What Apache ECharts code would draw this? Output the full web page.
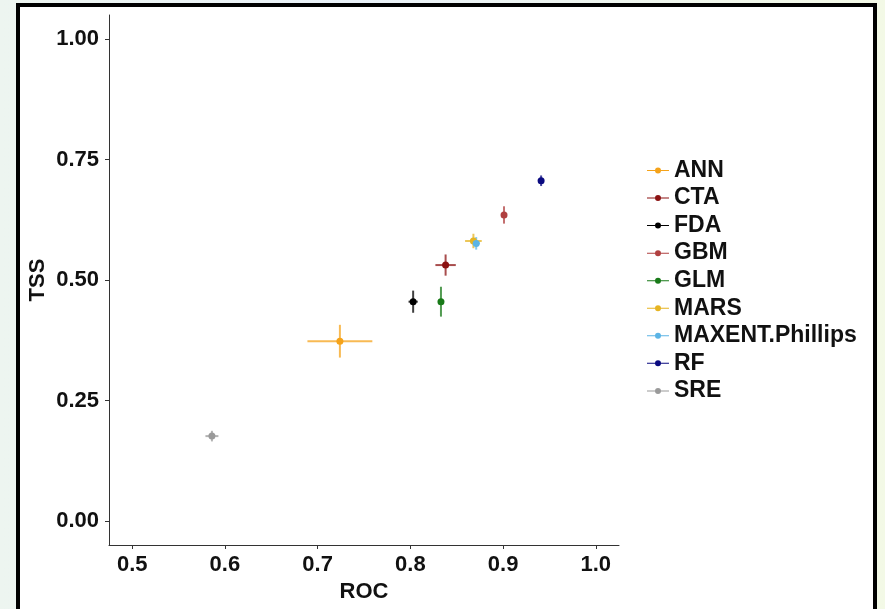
<!DOCTYPE html>
<html>
<head>
<meta charset="utf-8">
<script src="https://cdn.jsdelivr.net/npm/echarts@6/dist/echarts.min.js"></script>
<style>
    html, body {
        margin: 0;
        padding: 0;
        width: 885px;
        height: 609px;
        overflow: hidden;
        background: linear-gradient(90deg, #edf5f0 0%, #e9f1f8 40%, #eef5ee 70%, #f3f9e6 100%);
    }
    #frame {
        position: absolute;
        left: 16px;
        top: 3px;
        width: 861px;
        height: 612px;
        border: 4px solid #000;
        box-sizing: border-box;
        background: #fff;
    }
    #chart {
        position: absolute;
        left: 0;
        top: 0;
        width: 885px;
        height: 609px;
    }
</style>
</head>
<body>
<div id="frame"></div>
<div id="chart"></div>
<script>
// model names and evaluation scores (mean +/- sd)
const models = ['ANN', 'CTA', 'FDA', 'GBM', 'GLM', 'MARS', 'MAXENT.Phillips', 'RF', 'SRE'];
const rocMean = [0.724, 0.838, 0.803, 0.901, 0.833, 0.868, 0.871, 0.941, 0.586];
const rocSd = [0.035, 0.011, 0.005, 0.002, 0.001, 0.009, 0.004, 0.003, 0.007];
const tssMean = [0.373, 0.531, 0.455, 0.635, 0.455, 0.581, 0.576, 0.706, 0.176];
const tssSd = [0.034, 0.022, 0.023, 0.018, 0.031, 0.015, 0.013, 0.011, 0.011];
const colors = ['#F5A31A', '#8B1212', '#000000', '#B04040', '#187A18', '#E6B422', '#5BB4E5', '#0A0A80', '#9A9A9A'];

const xTicks = [0.5, 0.6, 0.7, 0.8, 0.9, 1.0];
const yTicks = [0, 0.25, 0.5, 0.75, 1.0];

const FONT = 'Liberation Sans, Arial, sans-serif';
const legendIcon = 'path://M0,3.5L22,3.5L22,4.5L0,4.5Z M8,4A3,3,0,1,1,14,4A3,3,0,1,1,8,4Z';

const myChart = echarts.init(document.getElementById('chart'));

function errorBars(i) {
    return function (params, api) {
        const x = api.value(0), y = api.value(1);
        const sx = api.value(2), sy = api.value(3);
        const h1 = api.coord([x - sx, y]);
        const h2 = api.coord([x + sx, y]);
        const v1 = api.coord([x, y - sy]);
        const v2 = api.coord([x, y + sy]);
        const style = { stroke: colors[i], lineWidth: 2, opacity: 0.75 };
        return {
            type: 'group',
            children: [
                { type: 'line', shape: { x1: h1[0], y1: h1[1], x2: h2[0], y2: h2[1] }, style: style },
                { type: 'line', shape: { x1: v1[0], y1: v1[1], x2: v2[0], y2: v2[1] }, style: style }
            ]
        };
    };
}

const series = [];
models.forEach((name, i) => {
    series.push({
        name: name,
        type: 'custom',
        renderItem: errorBars(i),
        data: [[rocMean[i], tssMean[i], rocSd[i], tssSd[i]]],
        silent: true,
        z: 1
    });
    series.push({
        name: name,
        type: 'scatter',
        symbolSize: 7,
        itemStyle: { color: colors[i], opacity: 1 },
        data: [[rocMean[i], tssMean[i]]],
        z: 2
    });
});

const labelStyle = { fontFamily: FONT, fontWeight: 'bold', fontSize: 22, color: '#111' };

const option = {
    animation: false,
    color: colors,
    grid: { left: 109, right: 266, top: 15, bottom: 64 },
    xAxis: {
        type: 'value',
        min: 0.475,
        max: 1.025,
        name: 'ROC',
        nameLocation: 'middle',
        nameGap: 34,
        nameTextStyle: labelStyle,
        axisLine: { onZero: false, lineStyle: { color: '#333', width: 1 } },
        axisTick: { show: true, length: 4, customValues: xTicks, lineStyle: { color: '#333' } },
        axisLabel: Object.assign({
            customValues: xTicks,
            margin: 9,
            formatter: v => v.toFixed(1)
        }, labelStyle),
        splitLine: { show: false }
    },
    yAxis: {
        type: 'value',
        min: -0.05,
        max: 1.05,
        name: 'TSS',
        nameLocation: 'middle',
        nameGap: 60,
        nameMoveOverlap: false,
        nameTextStyle: labelStyle,
        axisLine: { show: true, onZero: false, lineStyle: { color: '#333', width: 1 } },
        axisTick: { show: true, length: 4, customValues: yTicks, lineStyle: { color: '#333' } },
        axisLabel: Object.assign({
            customValues: yTicks,
            margin: 10,
            formatter: v => v.toFixed(2)
        }, labelStyle),
        splitLine: { show: false }
    },
    legend: {
        orient: 'vertical',
        left: 642,
        top: 154,
        itemWidth: 22,
        itemHeight: 8,
        itemGap: 4.55,
        selectedMode: false,
        textStyle: { fontFamily: FONT, fontWeight: 'bold', fontSize: 23, color: '#111', lineHeight: 21 },
        data: models.map(name => ({ name: name, icon: legendIcon }))
    },
    series: series
};

myChart.setOption(option);
</script>
</body>
</html>
